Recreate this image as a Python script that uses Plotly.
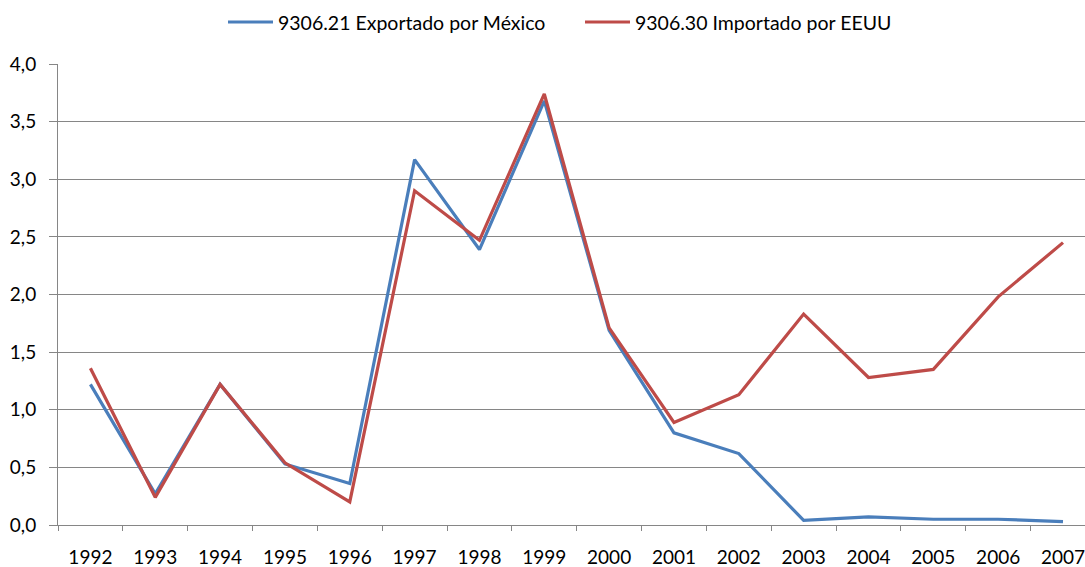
import plotly.graph_objects as go

years = ["1992", "1993", "1994", "1995", "1996", "1997", "1998", "1999",
         "2000", "2001", "2002", "2003", "2004", "2005", "2006", "2007"]
mexico = [1.22, 0.27, 1.22, 0.53, 0.36, 3.17, 2.39, 3.68,
          1.69, 0.80, 0.62, 0.04, 0.07, 0.05, 0.05, 0.03]
eeuu = [1.36, 0.24, 1.22, 0.54, 0.20, 2.90, 2.47, 3.74,
        1.71, 0.89, 1.13, 1.83, 1.28, 1.35, 1.98, 2.45]
y_ticks = [0, 0.5, 1, 1.5, 2, 2.5, 3, 3.5, 4]
series_names = ["9306.21 Exportado por México", "9306.30 Importado por EEUU"]
series_colors = ["#4A7EBB", "#BE4B48"]

W, H = 1085, 567
ML, MR, MT, MB = 58, 0, 64, 42
PW, PH = W - ML - MR, H - MT - MB


def px_x(fx):
    return (fx - ML) / PW


def px_y(fy):
    return 1 + (MT - fy) / PH


fig = go.Figure()
for vals, name, col in zip([mexico, eeuu], series_names, series_colors):
    fig.add_trace(go.Scatter(x=years, y=vals, mode="lines", name=name,
                             line=dict(color=col, width=3.2)))

# legend drawn as shapes + text (line swatches 45 px long like the original)
legend_pos = [(228, 273, 276), (585, 630, 633)]
for (x0, x1, xt), name, col in zip(legend_pos, series_names, series_colors):
    fig.add_shape(type="line", xref="paper", yref="paper",
                  x0=px_x(x0), x1=px_x(x1), y0=px_y(22), y1=px_y(22),
                  line=dict(color=col, width=3.2))
    fig.add_annotation(xref="paper", yref="paper", x=px_x(xt), y=px_y(22),
                       xanchor="left", yanchor="middle", showarrow=False,
                       text=name, font=dict(size=19.5))

# category width chosen so 2007 sits near the right edge, plot clipped there
x_right = -0.5 + PW / ((1063 - ML) / 15.5)

fig.update_layout(
    width=W, height=H,
    margin=dict(l=ML, r=MR, t=MT, b=MB, autoexpand=False),
    paper_bgcolor="white", plot_bgcolor="white",
    separators=",.",
    font=dict(family="Lato, Noto Sans, sans-serif", size=19, color="#000000"),
    showlegend=False,
    xaxis=dict(type="category", range=[-0.5, x_right], tickson="boundaries",
               ticks="outside", ticklen=5, tickcolor="#868686",
               ticklabelstandoff=15,
               showline=True, linecolor="#868686", linewidth=1,
               showgrid=False, zeroline=False),
    yaxis=dict(range=[0, 4], tickvals=y_ticks, tickformat=".1f",
               ticks="outside", ticklen=8, tickcolor="#868686",
               ticklabelstandoff=9,
               showline=True, linecolor="#868686", linewidth=1,
               showgrid=True, gridcolor="#868686", gridwidth=1,
               zeroline=False),
)

fig.write_html(
    "out.html",
    config={"displayModeBar": False},
    post_script="document.body.style.margin='0';document.body.style.overflow='hidden';",
)
